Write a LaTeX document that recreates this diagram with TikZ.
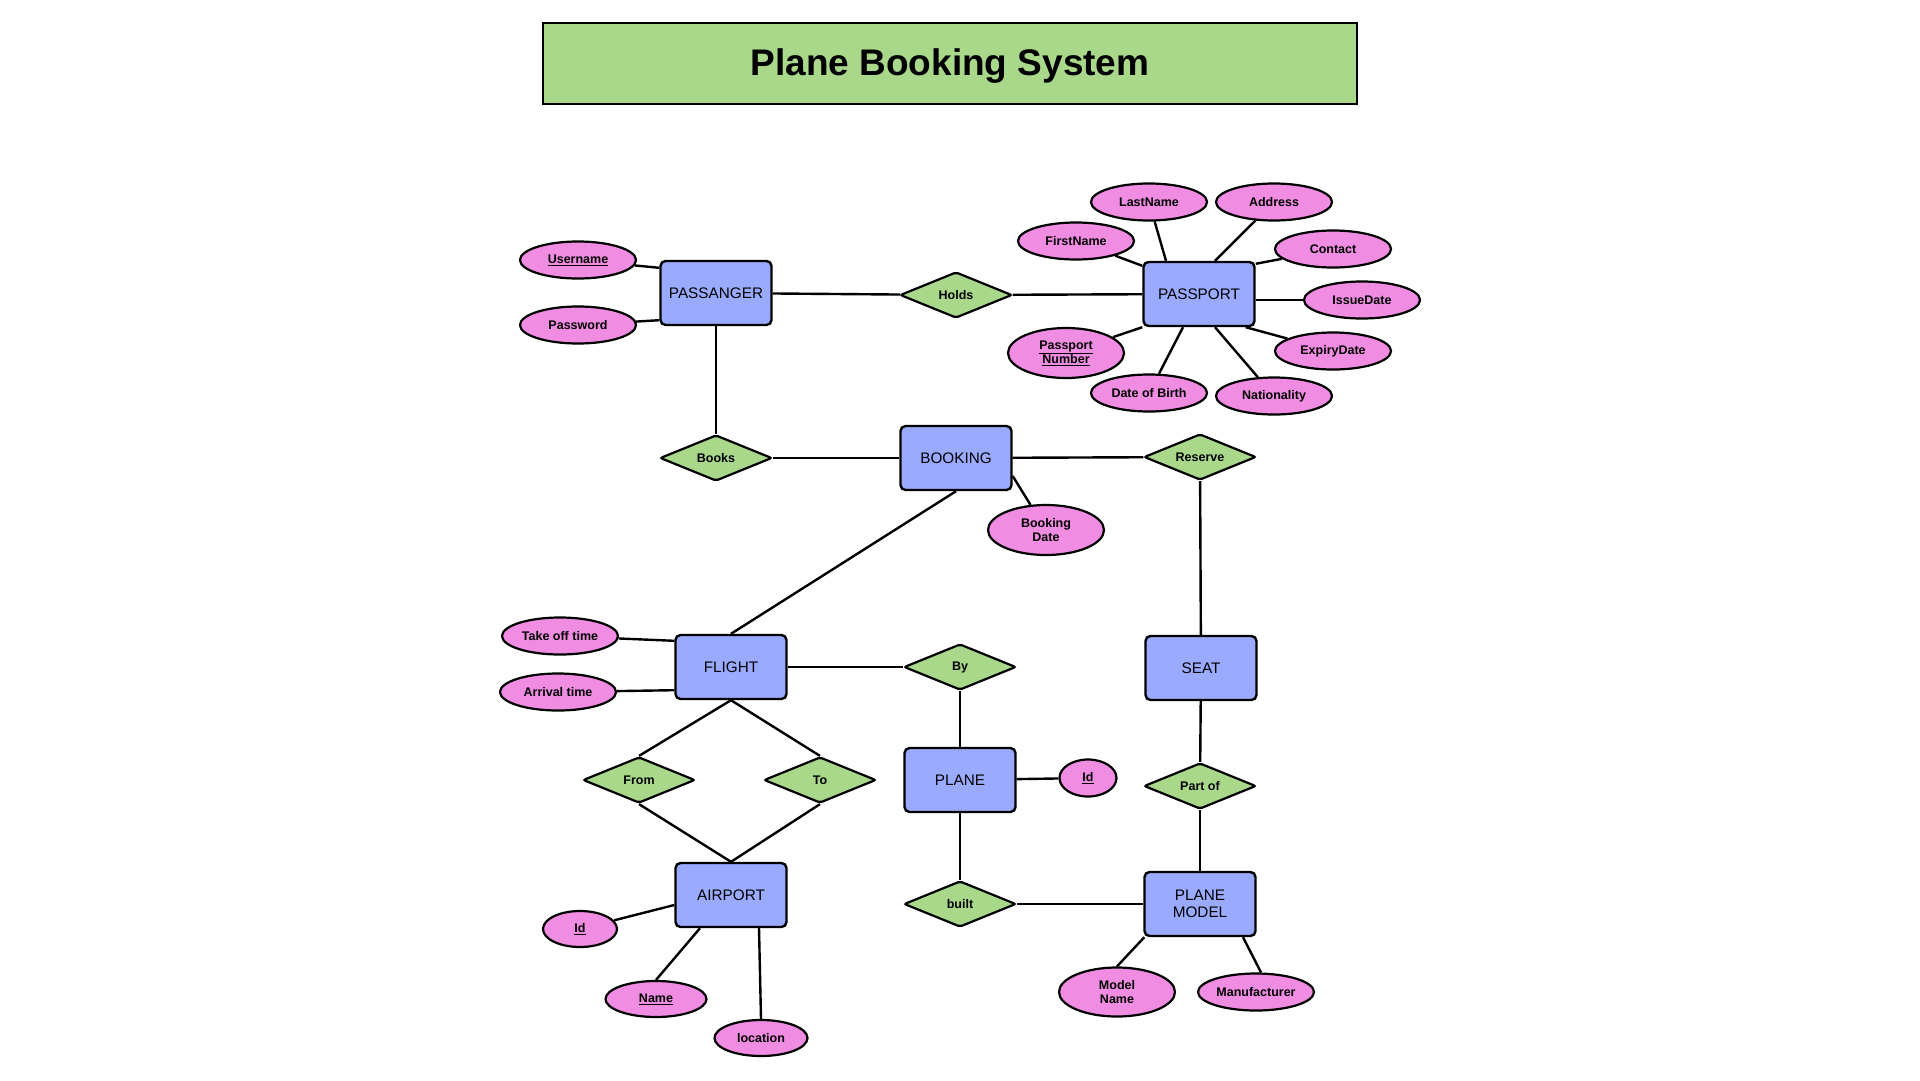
\documentclass[tikz,border=0pt]{standalone}
\usepackage{fontspec}
\setmainfont{Liberation Sans}
\usetikzlibrary{shapes.geometric,calc,backgrounds}
\definecolor{entblue}{HTML}{99AAFF}
\definecolor{relgreen}{HTML}{A9D88B}
\definecolor{attpink}{HTML}{F08CE2}
\begin{document}
\begin{tikzpicture}[x=1pt,y=-1pt,
 ent/.style={draw, line width=2.4pt, fill=entblue, rounded corners=5pt, minimum width=111pt, minimum height=64pt, inner sep=0pt, font=\fontsize{15.3}{17}\selectfont, align=center},
 rel/.style={draw, line width=2.2pt, fill=relgreen, diamond, aspect=3, minimum width=112pt, minimum height=46pt, inner sep=0pt, rounded corners=2pt, font=\fontsize{12.5}{14}\selectfont\bfseries},
 att/.style={draw, line width=2.2pt, fill=attpink, ellipse, minimum width=116pt, minimum height=37pt, inner sep=0pt, font=\fontsize{12.5}{14}\selectfont\bfseries, align=center},
 titlebox/.style={draw, line width=2pt, fill=relgreen, minimum width=814pt, minimum height=81pt, inner sep=0pt, text depth=2pt, font=\fontsize{37}{40}\selectfont\bfseries},
 link/.style={line width=2.4pt}]
\useasboundingbox (0,0) rectangle (1920,1080);

\node[titlebox] (title) at (950,63.5) {Plane Booking System};

% entities
\node[ent] (pas) at (716,293) {PASSANGER};
\node[ent] (pp) at (1199,294) {PASSPORT};
\node[ent] (bk) at (956,458) {BOOKING};
\node[ent] (fl) at (731,667) {FLIGHT};
\node[ent] (seat) at (1201,668) {SEAT};
\node[ent] (pl) at (960,780) {PLANE};
\node[ent] (ap) at (731,895) {AIRPORT};
\node[ent] (pm) at (1200,904) {PLANE\\MODEL};

% relationships
\node[rel] (holds) at (956,295) {Holds};
\node[rel] (books) at (716,458) {Books};
\node[rel] (res) at (1200,457) {Reserve};
\node[rel] (by) at (960,667) {By};
\node[rel] (from) at (639,780) {From};
\node[rel] (to) at (820,780) {To};
\node[rel] (partof) at (1200,786) {Part of};
\node[rel] (built) at (960,904) {built};

% attributes
\node[att] (user) at (578,260) {\underline{Username}};
\node[att] (pw) at (578,325) {Password};
\node[att] (ln) at (1149,202) {LastName};
\node[att] (addr) at (1274,202) {Address};
\node[att] (fn) at (1076,241) {FirstName};
\node[att] (con) at (1333,249) {Contact};
\node[att] (iss) at (1362,300) {IssueDate};
\node[att] (exp) at (1333,351) {ExpiryDate};
\node[att, minimum height=50pt] (pnum) at (1066,353) {\underline{Passport}\\\underline{Number}};
\node[att] (dob) at (1149,393) {Date of Birth};
\node[att] (nat) at (1274,396) {Nationality};
\node[att, minimum height=50pt] (bdate) at (1046,530) {Booking\\Date};
\node[att] (tot) at (560,636) {Take off time};
\node[att] (arr) at (558,692) {Arrival time};
\node[att, minimum width=57pt] (pid) at (1088,778) {\underline{Id}};
\node[att, minimum width=74pt, minimum height=36pt] (aid) at (580,929) {\underline{Id}};
\node[att, minimum width=101pt, minimum height=36pt] (aname) at (656,999) {\underline{Name}};
\node[att, minimum width=93pt, minimum height=36pt] (loc) at (761,1038) {location};
\node[att, minimum height=49pt] (mname) at (1117,992) {Model\\Name};
\node[att] (manu) at (1256,992) {Manufacturer};

\begin{scope}[on background layer]
\fill[white] (0,0) rectangle (1920,1080);
\draw[link] (user) -- ($(pas.north west)+(0,8)$);
\draw[link] (pw) -- ($(pas.south west)+(0,-6)$);
\draw[link] (pas) -- (holds);
\draw[link] (holds) -- (pp);
\draw[link] (pas) -- (books);
\draw[link] (books) -- (bk);
\draw[link] (bk) -- (res);
\draw[link] (res) -- (seat);
\draw[link] (bdate) -- ($(bk.east)+(0,18)$);
\draw[link] (bk.south) -- (fl.north);
\draw[link] (tot) -- ($(fl.north west)+(0,7)$);
\draw[link] (arr) -- ($(fl.south west)+(0,-10)$);
\draw[link] (fl) -- (by);
\draw[link] (by) -- (pl);
\draw[link] (pl) -- (pid);
\draw[link] (pl) -- (built);
\draw[link] (built) -- (pm);
\draw[link] (seat) -- (partof);
\draw[link] (partof) -- (pm);
\draw[link] (fl.south) -- (from.north);
\draw[link] (fl.south) -- (to.north);
\draw[link] (from.south) -- (ap.north);
\draw[link] (to.south) -- (ap.north);
\draw[link] (aid) -- ($(ap.west)+(0,10)$);
\draw[link] (aname.north) -- ($(ap.south)+(-31,0)$);
\draw[link] (loc.north) -- ($(ap.south)+(28,0)$);
\draw[link] (mname.north) -- ($(pm.south west)+(1,0)$);
\draw[link] ($(manu.north)+(5,0)$) -- ($(pm.south)+(43,0)$);
% passport attributes
\draw[link] (fn) -- ($(pp.north west)+(0,5)$);
\draw[link] (ln) -- ($(pp.north)+(-33,0)$);
\draw[link] (addr) -- ($(pp.north)+(16,0)$);
\draw[link] (con) -- ($(pp.north east)+(0,3)$);
\draw[link] (iss.west) -- (iss.west -| pp.east);
\draw[link] (exp) -- ($(pp.south east)+(-10,0)$);
\draw[link] (nat) -- ($(pp.south)+(16,0)$);
\draw[link] (dob) -- ($(pp.south)+(-16,0)$);
\draw[link] (pnum) -- (pp.south west);
\end{scope}
\end{tikzpicture}
\end{document}
